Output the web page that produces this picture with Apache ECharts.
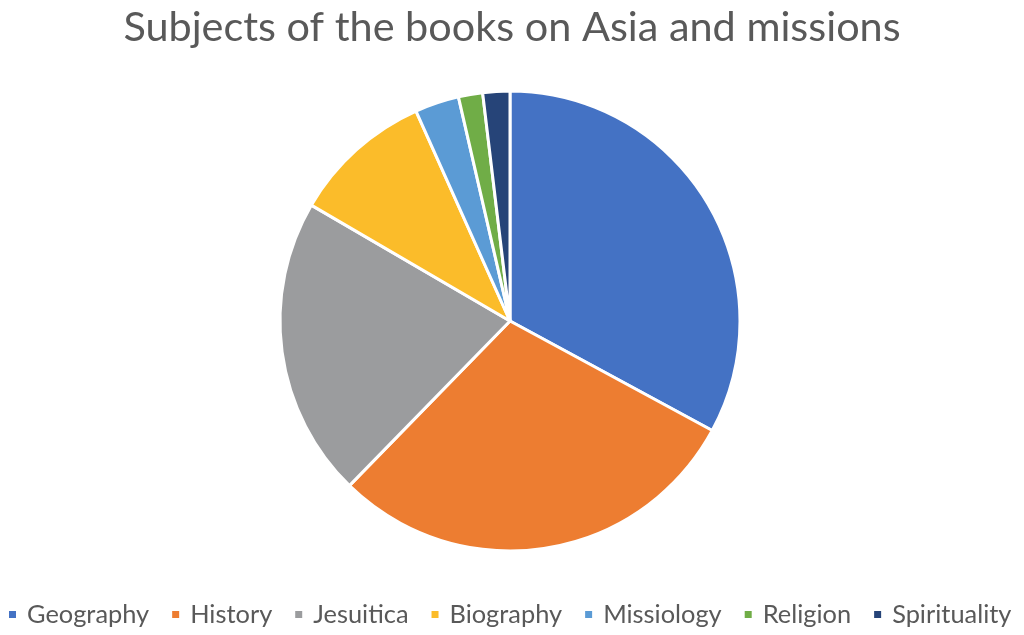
<!DOCTYPE html>
<html><head><meta charset="utf-8">
<script src="https://cdn.jsdelivr.net/npm/echarts@6/dist/echarts.min.js"></script>
<style>html,body{margin:0;padding:0;background:#fff}#c{width:1024px;height:635px}</style>
</head><body><div id="c"></div>
<script>
const categories = ['Geography','History','Jesuitica','Biography','Missiology','Religion','Spirituality'];
const values = [32.9, 29.4, 21.1, 9.9, 3.1, 1.7, 1.9];
const colors = ['#4472C4','#ED7D31','#9B9C9E','#FBBC2A','#5B9BD5','#70AD47','#264478'];
const chart = echarts.init(document.getElementById('c'));
chart.setOption({
  animation:false,
  title:{text:'Subjects of the books on Asia and missions',left:'center',top:2,
    textStyle:{fontFamily:'Lato',fontSize:41.4,fontWeight:'normal',color:'#595959'}},
  legend:{bottom:8,left:7,padding:0,width:1020,itemWidth:9,itemHeight:9,itemGap:21,icon:'rect',
    textStyle:{fontFamily:'Lato',fontSize:25.4,color:'#595959',padding:[0,0,0,5]},
    data:categories},
  series:[{type:'pie',center:[510,321],radius:230,startAngle:90,clockwise:true,
    label:{show:false},labelLine:{show:false},
    itemStyle:{borderColor:'#fff',borderWidth:3},
    data:categories.map((n,i)=>({name:n,value:values[i],itemStyle:{color:colors[i]}}))}]
});
</script></body></html>
